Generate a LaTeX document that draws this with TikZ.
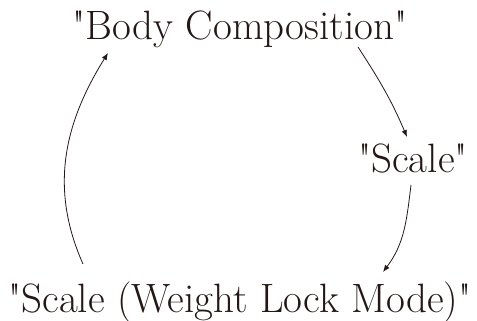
\documentclass[tikz,border=0pt]{standalone}
\usetikzlibrary{arrows.meta,calc}
\definecolor{ink}{RGB}{35,24,21}
\begin{document}
\begin{tikzpicture}[x=1pt,y=1pt,
  lbl/.style={inner sep=0pt,anchor=base,text=ink,font=\fontsize{41}{44}\selectfont},
  conn/.style={draw=ink,line width=0.8pt,-{Latex[length=7pt,width=5.5pt]}}]
\useasboundingbox (0,0) rectangle (477,321);
\node[lbl] (top) at (240,281) {\textquotedbl Body Composition\textquotedbl};
\node[lbl] (scale) at (413,148) {\textquotedbl Scale\textquotedbl};
\node[lbl] (lock) at (240,8) {\textquotedbl Scale (Weight Lock Mode)\textquotedbl};
\draw[conn] ($(top.base)+(118,-7)$) to[out=-57,in=113] ($(scale.base)+(-6,36)$);
\draw[conn] ($(scale.base)+(-2,-12)$) to[out=-97,in=53] ($(lock.base)+(143,41)$);
\draw[conn] ($(lock.base)+(-157,49)$) to[out=114,in=-122] ($(top.base)+(-132,-13)$);
\end{tikzpicture}
\end{document}
